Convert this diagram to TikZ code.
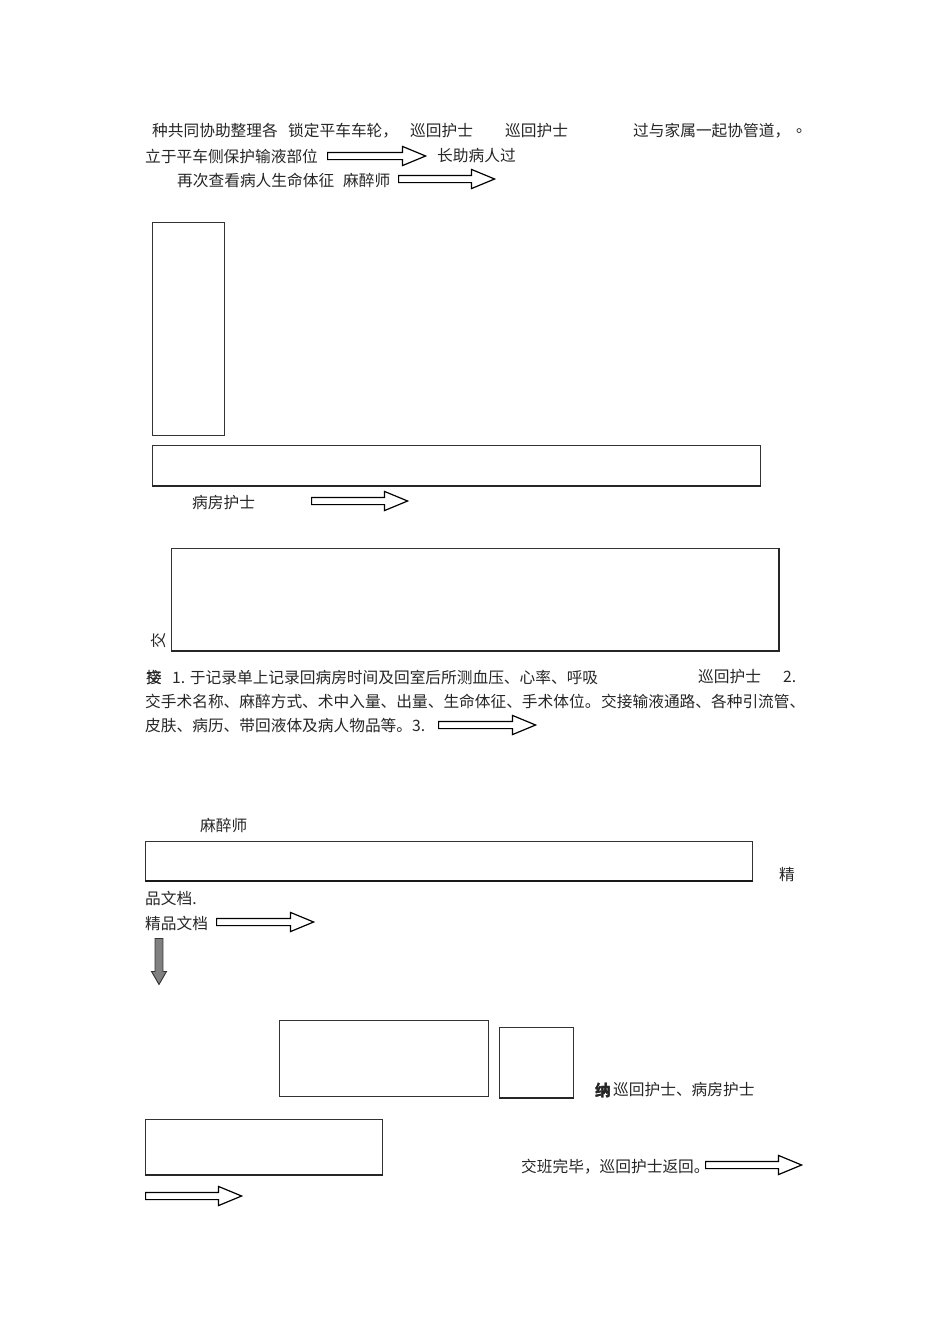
\documentclass[tikz,border=0pt]{standalone}
\usepackage{fontspec}
\setmainfont{Noto Sans CJK SC}
\usetikzlibrary{shapes.arrows}
\tikzset{
  txt/.style={anchor=west,inner sep=0pt,font=\fontsize{15.7}{17}\selectfont,text=black!85},
  box/.style={draw=black!80,line width=0.9pt,anchor=north west,inner sep=0pt,fill=white},
  harrow/.style={single arrow,draw=black,line width=1.2pt,fill=white,inner sep=3pt,
     minimum width=18pt,single arrow head extend=6pt,single arrow tip angle=45,anchor=west},
  varrow/.style={single arrow,draw=black!80,line width=0.9pt,fill=black!50,inner sep=3.5pt,
     minimum width=15pt,single arrow head extend=3.5pt,single arrow tip angle=60,shape border rotate=270,anchor=north}
}
\begin{document}
\begin{tikzpicture}[x=1pt,y=-1pt]
\useasboundingbox (0,0) rectangle (950,1344);
% line 1
\node[txt] (t1a) at (152,131) {种共同协助整理各};
\node[txt] (t1b) at (288,131) {锁定平车车轮，};
\node[txt] (t1c) at (410,131) {巡回护士};
\node[txt] (t1d) at (505,131) {巡回护士};
\node[txt] (t1e) at (633,131) {过与家属一起协管道，};
\node[txt] (t1f) at (796,131) {。};
% line 2
\node[txt] (t2a) at (145,156) {立于平车侧保护输液部位};
\node[harrow,minimum height=98pt] (a1) at (327,156) {};
\node[txt] (t2b) at (437,156) {长助病人过};
% line 3
\node[txt] (t3a) at (177,180) {再次查看病人生命体征};
\node[txt] (t3b) at (343,180) {麻醉师};
\node[harrow,minimum height=96pt] (a2) at (398,179) {};
% boxes
\node[box,minimum width=72pt,minimum height=213pt] (r1) at (152,222) {};
\node[box,minimum width=608pt,minimum height=40pt] (r2) at (152,445) {};
\draw[line width=1.6pt,black!85] (r2.south west) -- (r2.south east);
\node[txt] (t4) at (192,503) {病房护士};
\node[harrow,minimum height=96pt] (a3) at (311,501) {};
\node[box,minimum width=607pt,minimum height=102pt] (r3) at (171,548) {};
\draw[line width=1.6pt,black!85] (r3.south west) -- (r3.south east) -- (r3.north east);
\node[txt,rotate=90,anchor=center] (t5) at (158,641) {交};
% paragraph
\node[txt] (t6a) at (146,677) {\rlap{交}接};
\node[txt] (t6b) at (172,677) {1. 于记录单上记录回病房时间及回室后所测血压、心率、呼吸};
\node[txt] (t6c) at (698,677) {巡回护士};
\node[txt] (t6d) at (783,677) {2.};
\node[txt] (t7a) at (145,701) {交手术名称、麻醉方式、术中入量、出量、生命体征、手术体位。};
\node[txt] (t7b) at (601,701) {交接输液通路、各种引流管、};
\node[txt] (t8) at (145,726) {皮肤、病历、带回液体及病人物品等。3.};
\node[harrow,minimum height=97pt] (a4) at (438,725) {};
% anaesthetist
\node[txt] (t9) at (200,825) {麻醉师};
\node[box,minimum width=607pt,minimum height=39pt] (r4) at (145,841) {};
\draw[line width=2.4pt,black!90] (r4.south west) -- (r4.south east);
\node[txt] (t10) at (779,875) {精};
\node[txt] (t11) at (145,898) {品文档.};
\node[txt] (t12) at (145,923) {精品文档};
\node[harrow,minimum height=97pt] (a5) at (216,922) {};
\node[varrow,minimum height=46pt] (a6) at (159,938) {};
% lower boxes
\node[box,minimum width=209pt,minimum height=76pt] (r5) at (279,1020) {};
\node[box,minimum width=74pt,minimum height=70pt] (r6) at (499,1027) {};
\draw[line width=1.4pt,black!85] (r6.south west) -- (r6.south east);
\node[txt,font=\bfseries\fontsize{15.7}{17}\selectfont] (t13a) at (595,1090) {\rlap{纳}纳};
\node[txt] (t13b) at (613,1090) {巡回护士、病房护士};
\node[box,minimum width=237pt,minimum height=55pt] (r7) at (145,1119) {};
\draw[line width=1.4pt,black!85] (r7.south west) -- (r7.south east);
\node[txt] (t14) at (521,1167) {交班完毕，巡回护士返回。};
\node[harrow,minimum height=96pt] (a7) at (705,1165) {};
\node[harrow,minimum height=96pt] (a8) at (145,1196) {};
\end{tikzpicture}
\end{document}
